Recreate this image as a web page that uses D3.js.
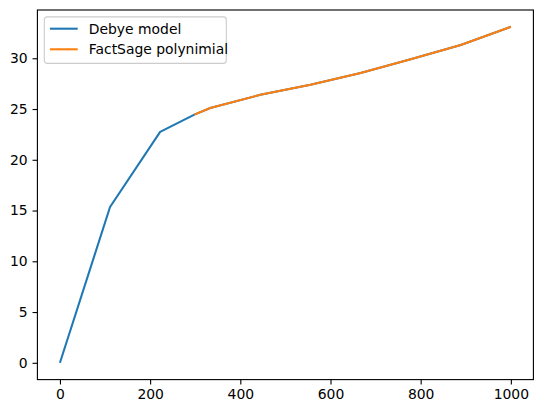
<!DOCTYPE html>
<html>
<head>
<meta charset="utf-8">
<script src="https://cdn.jsdelivr.net/npm/d3@7"></script>
<style>
  body { margin: 0; background: #fff; }
  text { font-family: "DejaVu Sans", sans-serif; }
</style>
</head>
<body>
<div id="chart"></div>
<script>
// Debye model
var debyeT = [0, 111.1, 222.2, 298.15, 333.3, 444.4, 555.6, 666.7, 777.8, 888.9, 1000];
var debyeCp = [0, 15.35, 22.75, 24.45, 25.1, 26.4, 27.4, 28.55, 29.9, 31.3, 33.1];
// FactSage polynomial from 298.15 K
var factT = [298.15, 333.3, 444.4, 555.6, 666.7, 777.8, 888.9, 1000];
var factCp = [24.45, 25.1, 26.4, 27.4, 28.55, 29.9, 31.3, 33.1];
var xTicks = [0, 200, 400, 600, 800, 1000];
var yTicks = [0, 5, 10, 15, 20, 25, 30];
var seriesNames = ["Debye model", "FactSage polynimial"];

var width = 543, height = 413;
// plot box (window.top is read-only, so no "top" here)
var box = { left: 37.4, right: 533.4, top: 10, bottom: 379.6 };
var colors = ["#1f77b4", "#ff7f0e"];

var svg = d3.select("#chart").append("svg")
    .attr("width", width)
    .attr("height", height);

// matplotlib style 5% margins
var xmin = 0, xmax = 1000;
var ymin = 0, ymax = d3.max(debyeCp.concat(factCp));
var xpad = (xmax - xmin) * 0.05, ypad = (ymax - ymin) * 0.05;
var x = d3.scaleLinear().domain([xmin - xpad, xmax + xpad]).range([box.left, box.right]);
var y = d3.scaleLinear().domain([ymin - ypad, ymax + ypad]).range([box.bottom, box.top]);

var line = d3.line()
    .x(function(d){ return x(d[0]); })
    .y(function(d){ return y(d[1]); });

var plot = svg.append("g");
plot.append("path")
    .datum(debyeT.map(function(t, i){ return [t, debyeCp[i]]; }))
    .attr("d", line)
    .attr("fill", "none")
    .attr("stroke", colors[0])
    .attr("stroke-width", 2.08)
    .attr("stroke-linejoin", "round")
    .attr("stroke-linecap", "butt");
plot.append("path")
    .datum(factT.map(function(t, i){ return [t, factCp[i]]; }))
    .attr("d", line)
    .attr("fill", "none")
    .attr("stroke", colors[1])
    .attr("stroke-width", 2.08)
    .attr("stroke-linejoin", "round")
    .attr("stroke-linecap", "butt");

// axes
var xAxis = d3.axisBottom(x).tickValues(xTicks).tickSize(4.86).tickPadding(4.86).tickFormat(d3.format("d"));
var yAxis = d3.axisLeft(y).tickValues(yTicks).tickSize(4.86).tickPadding(4.86).tickFormat(d3.format("d"));
var gx = svg.append("g").attr("transform", "translate(0," + box.bottom + ")").call(xAxis);
var gy = svg.append("g").attr("transform", "translate(" + box.left + ",0)").call(yAxis);
[gx, gy].forEach(function(g){
    g.select(".domain").remove();
    g.selectAll(".tick line").attr("stroke", "#000").attr("stroke-width", 1.11);
    g.selectAll(".tick text").attr("fill", "#000").style("font-size", "13.9px");
});

// frame
svg.append("rect")
    .attr("x", box.left).attr("y", box.top)
    .attr("width", box.right - box.left).attr("height", box.bottom - box.top)
    .attr("fill", "none")
    .attr("stroke", "#000")
    .attr("stroke-width", 1.11);

// legend
var lg = svg.append("g").attr("transform", "translate(44.3,16.9)");
lg.append("rect")
    .attr("width", 182).attr("height", 46.5)
    .attr("rx", 2.8).attr("ry", 2.8)
    .attr("fill", "#fff").attr("fill-opacity", 0.8)
    .attr("stroke", "#cccccc").attr("stroke-width", 1.11);
seriesNames.forEach(function(name, i){
    var cy = 11.8 + i * 20.6;
    lg.append("line")
        .attr("x1", 5.6).attr("x2", 33.4)
        .attr("y1", cy).attr("y2", cy)
        .attr("stroke", colors[i]).attr("stroke-width", 2.08);
    lg.append("text")
        .attr("x", 44.5).attr("y", cy)
        .attr("dy", "0.35em")
        .style("font-size", "13.9px")
        .attr("fill", "#000")
        .text(name);
});
</script>
</body>
</html>
